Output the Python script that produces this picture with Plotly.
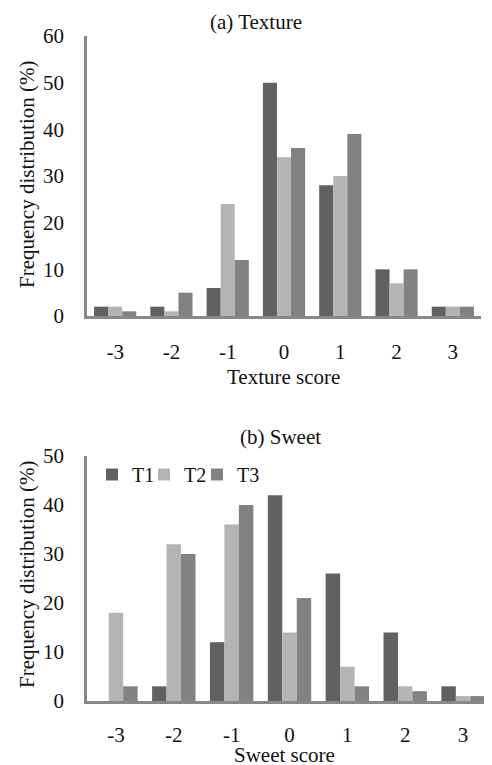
import plotly.graph_objects as go

categories = ["-3", "-2", "-1", "0", "1", "2", "3"]
series_names = ["T1", "T2", "T3"]
colors = ["#616161", "#b4b4b4", "#828282"]

texture_T1 = [2, 2, 6, 50, 28, 10, 2]
texture_T2 = [2, 1, 24, 34, 30, 7, 2]
texture_T3 = [1, 5, 12, 36, 39, 10, 2]

sweet_T1 = [0, 3, 12, 42, 26, 14, 3]
sweet_T2 = [18, 32, 36, 14, 7, 3, 1]
sweet_T3 = [3, 30, 40, 21, 3, 2, 1]

texture_ticks = [0, 10, 20, 30, 40, 50, 60]
sweet_ticks = [0, 10, 20, 30, 40, 50]

# page body has an 8px default margin: figure drawn at offset (8, 8)
OFF = 8
W, H = 492 - OFF, 765 - OFF
FONT = "Liberation Serif"
AX = "#888888"
TXT = "#111111"
legend_ids = ["legend", "legend2", "legend3"]
legend_left = [92, 144, 197]

fig = go.Figure()
for name, vals, c in zip(series_names, [texture_T1, texture_T2, texture_T3], colors):
    fig.add_trace(go.Bar(x=categories, y=vals, name=name, marker_color=c,
                         marker_line_width=0, xaxis="x", yaxis="y", showlegend=False))
for name, vals, c, lg in zip(series_names, [sweet_T1, sweet_T2, sweet_T3], colors, legend_ids):
    fig.add_trace(go.Bar(x=categories, y=vals, name=name, marker_color=c,
                         marker_line_width=0, xaxis="x2", yaxis="y2", showlegend=True,
                         legend=lg))

def px_x(p):
    return min(1.0, (p - OFF) / W)

def px_y(p):
    return max(0.0, 1 - (p - OFF) / H)

axis_common = dict(showgrid=False, zeroline=False, showline=True, linecolor=AX,
                   linewidth=2.5, ticks="", automargin=False,
                   tickfont=dict(family=FONT, size=21, color=TXT))

def label(text, x, y, angle=0):
    return dict(text=text, x=px_x(x), y=px_y(y), xref="paper", yref="paper",
                showarrow=False, textangle=angle, font=dict(family=FONT, size=21, color=TXT),
                xanchor="center", yanchor="middle")

def legend_box(x):
    return dict(orientation="h", x=px_x(x), y=px_y(455), xanchor="left", yanchor="top",
                bgcolor="rgba(0,0,0,0)", font=dict(family=FONT, size=20, color=TXT),
                itemwidth=30)

fig.update_layout(
    width=W, height=H,
    margin=dict(l=0, r=0, t=0, b=0, autoexpand=False),
    paper_bgcolor="white", plot_bgcolor="white",
    barmode="group", bargap=0.25, bargroupgap=0,
    font=dict(family=FONT, size=21, color=TXT),
    xaxis=dict(domain=[px_x(87), px_x(481)], anchor="y", type="category",
               ticklabelstandoff=15, **axis_common),
    yaxis=dict(domain=[px_y(316), px_y(36)], anchor="x", range=[0, 60],
               tickvals=texture_ticks, ticklabelstandoff=16, **axis_common),
    xaxis2=dict(domain=[px_x(87), px_x(492)], anchor="y2", type="category",
                ticklabelstandoff=13, **axis_common),
    yaxis2=dict(domain=[px_y(701), px_y(456)], anchor="x2", range=[0, 50],
                tickvals=sweet_ticks, ticklabelstandoff=16, **axis_common),
    legend=legend_box(legend_left[0]),
    legend2=legend_box(legend_left[1]),
    legend3=legend_box(legend_left[2]),
    annotations=[
        label("(a) Texture", 256, 22),
        label("Texture score", 283, 377),
        label("Frequency distribution (%)", 27, 175, -90),
        label("(b) Sweet", 280, 437),
        label("Sweet score", 284, 755),
        label("Frequency distribution (%)", 27, 575, -90),
    ],
)

fig.write_html("out.html")
